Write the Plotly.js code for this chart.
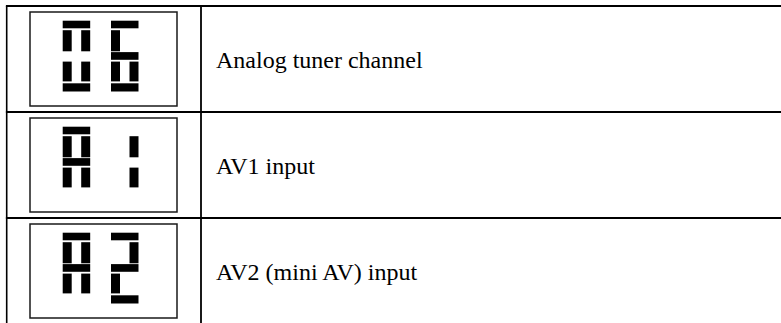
<!DOCTYPE html>
<html>
<head>
<meta charset="utf-8">
<script src="https://cdn.plot.ly/plotly-3.0.1.min.js"></script>
<style>
html,body{margin:0;padding:0;background:#fff;}
#chart{width:781px;height:323px;}
</style>
</head>
<body>
<div id="chart"></div>
<script>
// ---- data ----
const rowLabels = ["Analog tuner channel", "AV1 input", "AV2 (mini AV) input"];
const displayCodes = ["06", "A1", "A2"];
// lit segments of each seven-segment character (a=top, b=upper right, c=lower right,
// d=bottom, e=lower left, f=upper left, g=middle)
const leftCharSegments = ["abcdef", "abcefg", "abcefg"];
const rightCharSegments = ["acdefg", "bc", "abdeg"];

// ---- layout geometry (pixel coordinates) ----
const W = 781, H = 323;
const rowTops = [6, 112, 218];
const rowH = 106;
const tableLeft = 6.7, colDiv = 201;
const boxL = 30, boxR = 177, boxTopOff = 6, boxBotOff = 100;
const charX = [62.7, 111];
const charW = 27.5, vW = 9;
const segY = {
  a: [14.7, 22.3], upper: [24.2, 45.3], g: [46.1, 53.8], lower: [55.6, 75.4], d: [77.3, 85.5]
};

function segRect(seg, x0, top) {
  let xr, yr;
  switch (seg) {
    case 'a': xr = [x0, x0 + charW]; yr = segY.a; break;
    case 'g': xr = [x0, x0 + charW]; yr = segY.g; break;
    case 'd': xr = [x0, x0 + charW]; yr = segY.d; break;
    case 'f': xr = [x0, x0 + vW]; yr = segY.upper; break;
    case 'b': xr = [x0 + charW - vW, x0 + charW]; yr = segY.upper; break;
    case 'e': xr = [x0, x0 + vW]; yr = segY.lower; break;
    case 'c': xr = [x0 + charW - vW, x0 + charW]; yr = segY.lower; break;
  }
  return {type: 'rect', xref: 'x', yref: 'y', x0: xr[0], x1: xr[1], y0: top + yr[0], y1: top + yr[1],
          fillcolor: '#000', line: {width: 0}, layer: 'above'};
}

const shapes = [];
const annotations = [];
// table rules
rowTops.forEach(t => {
  shapes.push({type: 'line', xref: 'x', yref: 'y', x0: tableLeft - 0.8, x1: W + 5, y0: t, y1: t,
               line: {color: '#000', width: 2}});
});
shapes.push({type: 'line', xref: 'x', yref: 'y', x0: tableLeft, x1: tableLeft, y0: rowTops[0], y1: H + 5,
             line: {color: '#000', width: 1.6}});
shapes.push({type: 'line', xref: 'x', yref: 'y', x0: colDiv, x1: colDiv, y0: rowTops[0], y1: H + 5,
             line: {color: '#000', width: 1.8}});

rowLabels.forEach((lab, i) => {
  const top = rowTops[i];
  // display frame
  shapes.push({type: 'rect', xref: 'x', yref: 'y', x0: boxL, x1: boxR, y0: top + boxTopOff, y1: top + boxBotOff,
               line: {color: '#1a1a1a', width: 1.5}, fillcolor: 'rgba(0,0,0,0)'});
  const chars = [leftCharSegments[i], rightCharSegments[i]];
  chars.forEach((segs, k) => {
    segs.split('').forEach(s => shapes.push(segRect(s, charX[k], top)));
  });
  annotations.push({xref: 'x', yref: 'y', x: 214, y: top + 54, xanchor: 'left', yanchor: 'middle',
                    text: lab, showarrow: false,
                    font: {family: 'Liberation Serif, Times New Roman, serif', size: 24, color: '#000'}});
});

// invisible trace carrying the display codes so axes are set up
const trace = {
  x: charX.map(() => 0), y: charX.map(() => 0), mode: 'markers',
  marker: {opacity: 0}, hoverinfo: 'skip', showlegend: false,
  text: displayCodes
};

const layout = {
  width: W, height: H,
  margin: {l: 0, r: 0, t: 0, b: 0},
  paper_bgcolor: '#fff', plot_bgcolor: '#fff',
  xaxis: {range: [0, W], visible: false, fixedrange: true},
  yaxis: {range: [H, 0], visible: false, fixedrange: true},
  shapes: shapes,
  annotations: annotations,
  showlegend: false
};

Plotly.newPlot('chart', [trace], layout, {staticPlot: true, displayModeBar: false});
</script>
</body>
</html>
